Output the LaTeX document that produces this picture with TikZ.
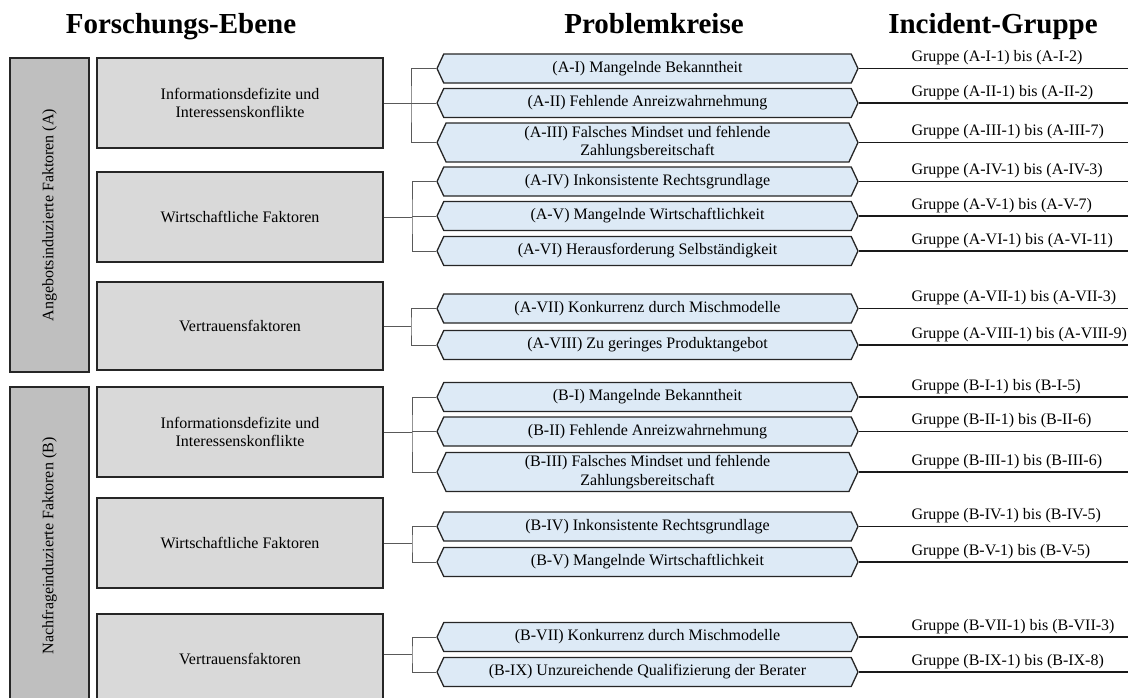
\documentclass[tikz,border=0pt]{standalone}
\usepackage{fontspec}
\setmainfont{Liberation Serif}
\usepackage{xcolor}
\usepackage{tikz}
\usetikzlibrary{calc,positioning,shapes.symbols}

\definecolor{kreisblau}{HTML}{DDEAF6}
\definecolor{ebenegrau}{HTML}{BFBFBF}
\definecolor{faktorgrau}{HTML}{D9D9D9}

\begin{document}
\begin{tikzpicture}[x=1pt,y=-1pt,line width=1pt,
    font=\fontsize{16}{18.5}\selectfont,
    ebene/.style={draw=black!85,line width=1.4pt,fill=ebenegrau,rotate=90,minimum height=79pt,inner sep=0pt},
    faktor/.style={draw=black!85,line width=1.4pt,fill=faktorgrau,minimum width=286pt,minimum height=90pt,align=center,inner sep=0pt},
    kreis/.style={shape=signal,signal to=west and east,signal pointer angle=130,draw=black!85,line width=1.3pt,fill=kreisblau,minimum width=421pt,inner sep=0pt,align=center},
    titel/.style={font=\fontsize{29}{31}\selectfont\bfseries,anchor=base},
    gruppe/.style={anchor=base west,inner sep=0pt},
    ast/.style={draw=black!65,line width=0.9pt},
    linie/.style={draw=black!90,line width=1.3pt}]
  \useasboundingbox (0,0) rectangle (1128,697);
  \clip (0,0) rectangle (1128,697);

  % Spaltentitel
  \node[titel] (tForschung) at (181,33) {Forschungs-Ebene};
  \node[titel] (tProblem) at (654,33) {Problemkreise};
  \node[titel] (tIncident) at (993,33) {Incident-Gruppe};

  % Forschungs-Ebene
  \node[ebene,minimum width=314pt] (eA) at (49.5,215) {Angebotsinduzierte Faktoren (A)};
  \node[ebene,minimum width=318pt] (eB) at (49.5,546) {Nachfrageinduzierte Faktoren (B)};

  \node[faktor] (mA1) at (240,103) {Informationsdefizite und\\Interessenskonflikte};
  \node[faktor] (mA2) at (240,217) {Wirtschaftliche Faktoren};
  \node[faktor,minimum height=88pt] (mA3) at (240,326) {Vertrauensfaktoren};
  \node[faktor] (mB1) at (240,432) {Informationsdefizite und\\Interessenskonflikte};
  \node[faktor] (mB2) at (240,543) {Wirtschaftliche Faktoren};
  \node[faktor] (mB3) at (240,659) {Vertrauensfaktoren};

  % Problemkreise und Incident-Gruppen
  \foreach \n/\y/\h/\txt/\grp in {
      AI/68.5/29/(A-I) Mangelnde Bekanntheit/Gruppe (A-I-1) bis (A-I-2),
      AII/103/29/(A-II) Fehlende Anreizwahrnehmung/Gruppe (A-II-1) bis (A-II-2),
      AIII/142.5/39/(A-III) Falsches Mindset und fehlende\\Zahlungsbereitschaft/Gruppe (A-III-1) bis (A-III-7),
      AIV/181.5/29/(A-IV) Inkonsistente Rechtsgrundlage/Gruppe (A-IV-1) bis (A-IV-3),
      AV/216/29/(A-V) Mangelnde Wirtschaftlichkeit/Gruppe (A-V-1) bis (A-V-7),
      AVI/251/29/(A-VI) Herausforderung Selbständigkeit/Gruppe (A-VI-1) bis (A-VI-11),
      AVII/308.5/29/(A-VII) Konkurrenz durch Mischmodelle/Gruppe (A-VII-1) bis (A-VII-3),
      AVIII/345/29/(A-VIII) Zu geringes Produktangebot/Gruppe (A-VIII-1) bis (A-VIII-9),
      BI/397/29/(B-I) Mangelnde Bekanntheit/Gruppe (B-I-1) bis (B-I-5),
      BII/431.5/29/(B-II) Fehlende Anreizwahrnehmung/Gruppe (B-II-1) bis (B-II-6),
      BIII/472/39/(B-III) Falsches Mindset und fehlende\\Zahlungsbereitschaft/Gruppe (B-III-1) bis (B-III-6),
      BIV/526.5/29/(B-IV) Inkonsistente Rechtsgrundlage/Gruppe (B-IV-1) bis (B-IV-5),
      BV/562/29/(B-V) Mangelnde Wirtschaftlichkeit/Gruppe (B-V-1) bis (B-V-5),
      BVII/637/29/(B-VII) Konkurrenz durch Mischmodelle/Gruppe (B-VII-1) bis (B-VII-3),
      BIX/672/29/(B-IX) Unzureichende Qualifizierung der Berater/Gruppe (B-IX-1) bis (B-IX-8)}{
    \node[kreis,minimum height=\h pt] (h\n) at (647.5,\y) {\txt};
    \coordinate (r\n) at (1128,\y);
    \draw[linie] (h\n.east) -- (r\n);
    \node[gruppe] (g\n) at (911,\y-7) {\grp};
  }

  % Verzweigungen
  \coordinate (jA1) at (411,103);
  \draw[ast] (mA1.east) -- (jA1);
  \draw[ast] (hAI.west) -| (jA1) |- (hAIII.west);
  \draw[ast] (hAII.west) -- (hAII.west -| jA1);

  \coordinate (jA2) at (412,217);
  \draw[ast] (mA2.east) -- (jA2);
  \draw[ast] (hAIV.west) -| (jA2) |- (hAVI.west);
  \draw[ast] (hAV.west) -- (hAV.west -| jA2);

  \coordinate (jA3) at (411,326);
  \draw[ast] (mA3.east) -- (jA3);
  \draw[ast] (hAVII.west) -| (jA3) |- (hAVIII.west);

  \coordinate (jB1) at (412,432);
  \draw[ast] (mB1.east) -- (jB1);
  \draw[ast] (hBI.west) -| (jB1) |- (hBIII.west);
  \draw[ast] (hBII.west) -- (hBII.west -| jB1);

  \coordinate (jB2) at (412,543);
  \draw[ast] (mB2.east) -- (jB2);
  \draw[ast] (hBIV.west) -| (jB2) |- (hBV.west);

  \coordinate (jB3) at (412,654.5);
  \draw[ast,line width=1.5pt] (jB3 -| mB3.east) -- (jB3);
  \draw[ast] (hBVII.west) -| (jB3) |- (hBIX.west);
\end{tikzpicture}
\end{document}
